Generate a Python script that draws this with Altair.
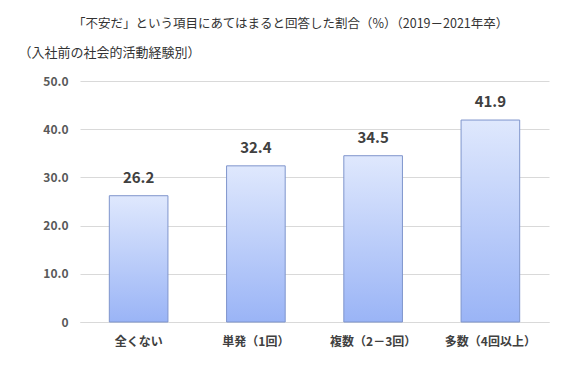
import altair as alt
import pandas as pd

categories = ["全くない", "単発（1回）", "複数（2－3回）", "多数（4回以上）"]
values = [26.2, 32.4, 34.5, 41.9]

df = pd.DataFrame({"cat": categories, "val": values})

FONT = "Noto Sans CJK JP"

grad = alt.Gradient(
    gradient="linear",
    stops=[alt.GradientStop(color="#dfe8fd", offset=0),
           alt.GradientStop(color="#9ab4f6", offset=1)],
    x1=0, x2=0, y1=0, y2=1,
)

base = alt.Chart(df).encode(
    x=alt.X("cat:N", sort=categories,
            scale=alt.Scale(paddingInner=0.5, paddingOuter=0.25),
            axis=alt.Axis(title=None, labelAngle=0, ticks=False, domain=True,
                          domainColor="#d9d9d9", labelFont=FONT, labelFontSize=12,
                          labelFontWeight="bold", labelColor="#404040", labelPadding=14)),
    y=alt.Y("val:Q", scale=alt.Scale(domain=[0, 50]),
            axis=alt.Axis(values=[0, 10, 20, 30, 40, 50],
                          labelExpr="datum.value == 0 ? '0' : format(datum.value, '.1f')",
                          title="（入社前の社会的活動経験別）", titleAngle=0, titleAlign="left",
                          titleX=-62, titleY=-29, titleBaseline="middle",
                          titleFont=FONT, titleFontSize=13, titleFontWeight="normal",
                          titleColor="#333333",
                          ticks=False, domain=False, gridColor="#d9d9d9",
                          labelFont=FONT, labelFontSize=12, labelFontWeight="bold",
                          labelColor="#595959", labelPadding=12)),
)

bars = base.mark_bar(color=grad, stroke="#7f95cc", strokeWidth=1)
labels = base.mark_text(baseline="bottom", dy=-10, font=FONT, fontSize=15,
                        fontWeight="bold", color="#404040").encode(text=alt.Text("val:Q", format=".1f"))

chart = (bars + labels).properties(
    width=469, height=241,
    autosize=alt.AutoSizeParams(type="none"),
    padding={"left": 72, "top": 73, "right": 20, "bottom": 40},
    title=alt.TitleParams("「不安だ」という項目にあてはまると回答した割合（%）（2019－2021年卒）",
                          anchor="start", dx=55, offset=16, font=FONT, fontSize=12.5,
                          fontWeight="normal", color="#333333"),
).configure_view(stroke=None)

chart.save("out.html", embed_options={"renderer": "svg", "actions": False})
